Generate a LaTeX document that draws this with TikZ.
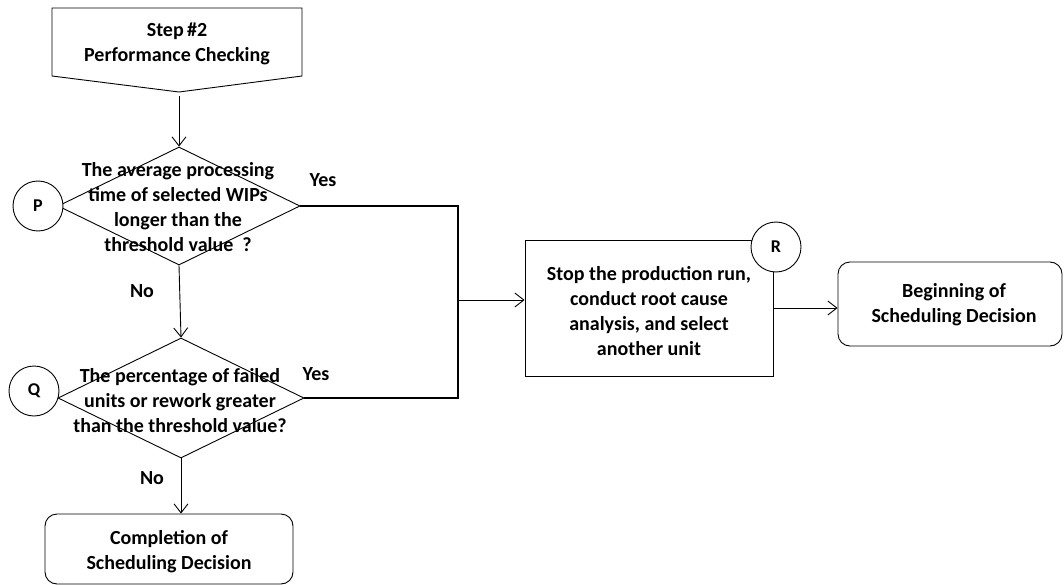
\documentclass[tikz,border=0pt]{standalone}
\usepackage{fontspec}
\setmainfont{Carlito}
\usetikzlibrary{shapes.geometric,arrows.meta}
\begin{document}
\begin{tikzpicture}[x=1pt,y=-1pt,
  txt/.style={font=\fontsize{20}{25}\selectfont\bfseries, align=center, inner sep=0},
  lbl/.style={font=\fontsize{20}{22}\selectfont\bfseries, inner sep=0},
  conn/.style={draw, line width=0.9pt, -{Straight Barb[length=9pt,width=14pt,line width=0.9pt]}},
  junc/.style={draw, line width=1.4pt},
  circ/.style={circle, draw, line width=0.9pt, minimum size=50pt, inner sep=0, fill=white, font=\fontsize{18}{20}\selectfont\bfseries},
  dia/.style={diamond, draw, line width=0.9pt, inner sep=0},
  boxr/.style={rectangle, draw, line width=0.9pt, inner sep=0},
  rbox/.style={rectangle, rounded corners=12pt, draw, line width=0.9pt, inner sep=0}]
\useasboundingbox (0,0) rectangle (1064,585);
% off-page connector
\draw[line width=0.9pt] (52,8) -- (302,8) -- (302,76) -- (179,92) -- (52,76) -- cycle;
\node[txt] (step) at (177,44) {Step\,\#2\\Performance Checking};
\coordinate (sbot) at (179,96);
% decisions
\node[dia, minimum width=242pt, minimum height=118pt] (P) at (179,206) {};
\node[txt] (ptext) at (178,207) {The average processing\\time of selected WIPs\\longer than the\\threshold value\ \ ?};
\node[circ] (cP) at (38,206) {P};
\node[dia, minimum width=246pt, minimum height=120pt] (Q) at (181,398) {};
\node[txt] (qtext) at (180,401) {The percentage of failed\\units or rework greater\\than the threshold value?};
\node[circ] (cQ) at (34,391) {Q};
% boxes
\node[boxr, minimum width=248pt, minimum height=136pt] (R) at (649,308) {};
\node[txt] (rtext) at (649,311) {Stop the production run,\\conduct root cause\\analysis, and select\\another unit};
\node[circ] (cR) at (776,247) {R};
\node[rbox, minimum width=224pt, minimum height=84pt] (B) at (950,304) {};
\node[txt] (btext) at (954,305) {Beginning of\\Scheduling Decision};
\node[rbox, minimum width=248pt, minimum height=70pt] (C) at (169,549) {};
\node[txt] (ctext) at (169,552) {Completion of\\Scheduling Decision};
% labels
\node[lbl] (yes1) at (323,180) {Yes};
\node[lbl] (no1) at (142,291) {No};
\node[lbl] (yes2) at (316,374) {Yes};
\node[lbl] (no2) at (152,478) {No};
% connectors
\coordinate (jP) at (458,206);
\coordinate (jQ) at (458,398);
\coordinate (jM) at (458,300);
\draw[conn] (sbot) -- (P.north);
\draw[conn] (P.south) -- (Q.north);
\draw[conn] (Q.south) -- (C.north -| Q.south);
\draw[junc] (P.east) -- (jP) -- (jQ) -- (Q.east);
\draw[conn] (jM) -- (jM -| R.west);
\draw[conn] (R.east) -- (R.east -| B.west);
\end{tikzpicture}
\end{document}
